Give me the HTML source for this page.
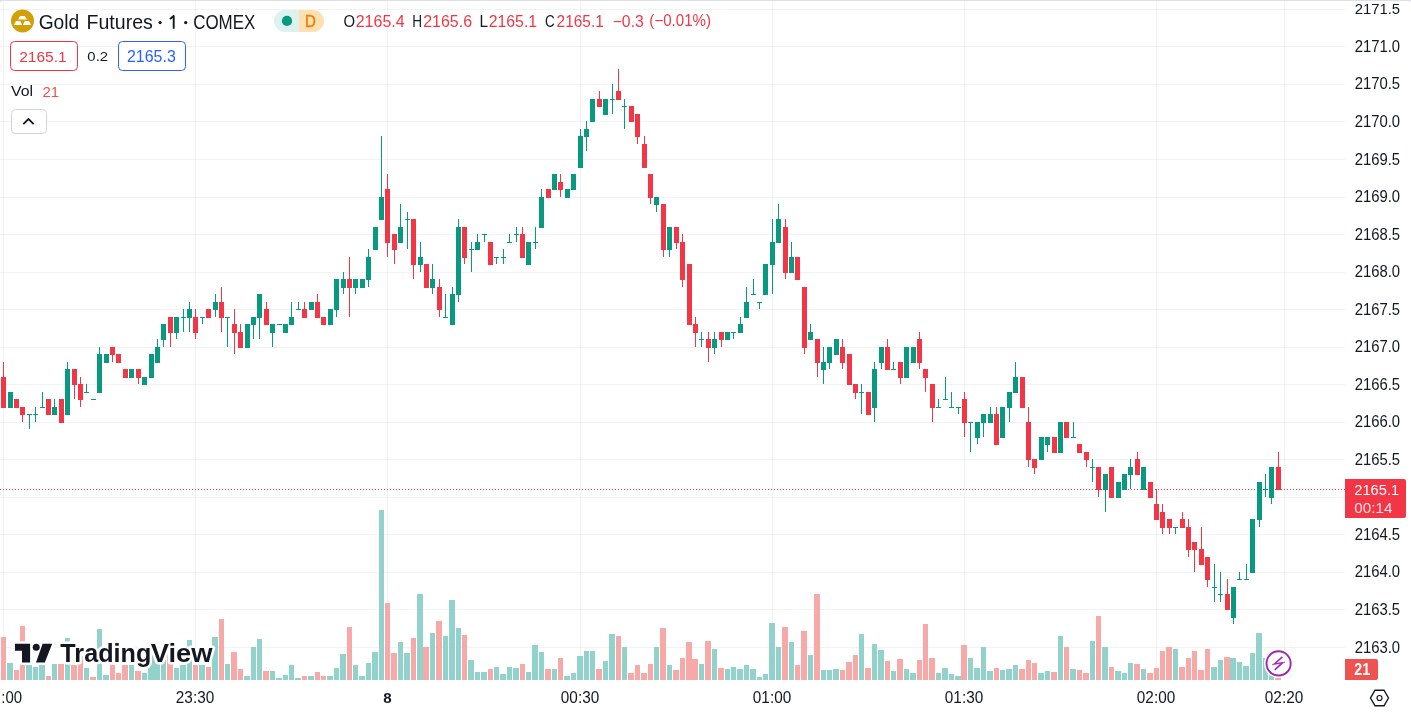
<!DOCTYPE html>
<html><head><meta charset="utf-8">
<style>
html,body{margin:0;padding:0;background:#fff;}
body{width:1411px;height:715px;overflow:hidden;position:relative;font-family:"Liberation Sans", sans-serif;}
svg{position:absolute;left:0;top:0;will-change:transform;}
</style></head>
<body>
<svg width="1411" height="715" viewBox="0 0 1411 715" shape-rendering="crispEdges">
<path fill="rgba(40,60,60,0.065)" d="M0 9h1345v1H0zM0 46h1345v1H0zM0 84h1345v1H0zM0 121h1345v1H0zM0 159h1345v1H0zM0 197h1345v1H0zM0 234h1345v1H0zM0 272h1345v1H0zM0 309h1345v1H0zM0 347h1345v1H0zM0 384h1345v1H0zM0 422h1345v1H0zM0 459h1345v1H0zM0 497h1345v1H0zM0 534h1345v1H0zM0 572h1345v1H0zM0 609h1345v1H0zM0 647h1345v1H0z"/>
<path fill="rgba(40,60,60,0.065)" d="M3 1h1V680h-1zM195 1h1V680h-1zM387 1h1V680h-1zM580 1h1V680h-1zM772 1h1V680h-1zM964 1h1V680h-1zM1156 1h1V680h-1zM1284 1h1V680h-1z"/>
<path fill="#92d2cc" d="M7 663h6v17h-6zM26 665h6v15h-6zM33 667h5v13h-5zM39 665h6v15h-6zM52 664h5v16h-5zM65 638h5v42h-5zM84 668h5v12h-5zM97 629h5v51h-5zM103 675h6v5h-6zM129 665h5v15h-5zM142 673h5v7h-5zM148 655h6v25h-6zM154 655h6v25h-6zM161 660h5v20h-5zM174 668h5v12h-5zM180 665h6v15h-6zM187 640h5v40h-5zM199 665h6v15h-6zM212 637h6v43h-6zM225 664h5v16h-5zM244 676h6v4h-6zM251 647h5v33h-5zM257 639h5v41h-5zM270 671h5v9h-5zM276 678h6v2h-6zM283 675h5v5h-5zM289 665h5v15h-5zM295 678h6v2h-6zM308 676h6v4h-6zM327 676h6v4h-6zM334 668h5v12h-5zM340 654h6v26h-6zM353 665h5v15h-5zM359 676h6v4h-6zM366 663h5v17h-5zM372 652h6v28h-6zM379 510h5v170h-5zM398 642h5v38h-5zM404 653h6v27h-6zM417 594h6v86h-6zM430 633h5v47h-5zM443 636h5v44h-5zM449 600h6v80h-6zM456 628h5v52h-5zM468 660h6v20h-6zM475 672h5v8h-5zM481 672h6v8h-6zM494 667h5v13h-5zM500 674h6v6h-6zM507 667h5v13h-5zM513 668h6v12h-6zM526 672h5v8h-5zM532 645h6v35h-6zM539 652h5v28h-5zM552 669h5v11h-5zM564 676h6v4h-6zM571 673h5v7h-5zM577 656h6v24h-6zM584 651h5v29h-5zM590 651h5v29h-5zM603 661h5v19h-5zM609 634h6v46h-6zM622 647h5v33h-5zM654 647h5v33h-5zM667 665h5v15h-5zM699 664h5v16h-5zM712 649h5v31h-5zM725 669h5v11h-5zM731 667h5v13h-5zM737 669h6v11h-6zM744 665h5v15h-5zM750 669h6v11h-6zM757 677h5v3h-5zM763 674h5v6h-5zM769 623h6v57h-6zM776 647h5v33h-5zM789 642h5v38h-5zM808 655h5v25h-5zM821 670h5v10h-5zM827 670h5v10h-5zM833 669h6v11h-6zM859 634h5v46h-5zM872 644h5v36h-5zM878 650h6v30h-6zM891 671h5v9h-5zM904 669h5v11h-5zM910 673h6v7h-6zM936 673h5v7h-5zM942 668h6v12h-6zM949 674h5v6h-5zM955 676h6v4h-6zM968 658h5v22h-5zM974 668h6v12h-6zM981 647h5v33h-5zM987 671h6v9h-6zM1000 670h5v10h-5zM1006 669h6v11h-6zM1013 665h5v15h-5zM1038 673h6v7h-6zM1045 671h5v9h-5zM1058 636h5v44h-5zM1070 669h6v11h-6zM1090 641h5v39h-5zM1102 647h6v33h-6zM1115 671h6v9h-6zM1122 673h5v7h-5zM1128 663h5v17h-5zM1141 669h5v11h-5zM1173 649h5v31h-5zM1211 667h6v13h-6zM1218 660h5v20h-5zM1230 658h6v22h-6zM1237 662h5v18h-5zM1243 666h6v14h-6zM1250 653h5v27h-5zM1256 633h6v47h-6zM1263 658h5v22h-5zM1269 665h5v15h-5z"/>
<path fill="#f7a9a7" d="M1 637h5v43h-5zM14 670h5v10h-5zM20 626h5v54h-5zM46 676h5v4h-5zM58 664h6v16h-6zM71 665h6v15h-6zM78 656h5v24h-5zM90 677h6v3h-6zM110 665h5v15h-5zM116 673h5v7h-5zM122 665h6v15h-6zM135 671h6v9h-6zM167 652h6v28h-6zM193 665h5v15h-5zM206 667h5v13h-5zM219 619h5v61h-5zM231 652h6v28h-6zM238 669h5v11h-5zM263 671h6v9h-6zM302 676h5v4h-5zM315 672h5v8h-5zM321 676h5v4h-5zM347 627h5v53h-5zM385 603h5v77h-5zM391 653h6v27h-6zM411 638h5v42h-5zM423 647h6v33h-6zM436 621h6v59h-6zM462 635h5v45h-5zM488 669h5v11h-5zM520 664h5v16h-5zM545 669h6v11h-6zM558 658h5v22h-5zM596 669h6v11h-6zM616 636h5v44h-5zM628 673h6v7h-6zM635 665h5v15h-5zM641 673h6v7h-6zM648 664h5v16h-5zM660 628h6v52h-6zM673 670h6v10h-6zM680 658h5v22h-5zM686 642h6v38h-6zM692 659h6v21h-6zM705 641h6v39h-6zM718 668h6v12h-6zM782 627h6v53h-6zM795 665h5v15h-5zM801 631h6v49h-6zM814 594h6v86h-6zM840 670h5v10h-5zM846 662h6v18h-6zM853 655h5v25h-5zM865 668h6v12h-6zM885 661h5v19h-5zM897 659h6v21h-6zM917 660h5v20h-5zM923 624h5v56h-5zM929 658h6v22h-6zM961 645h6v35h-6zM994 668h5v12h-5zM1019 669h6v11h-6zM1026 660h5v20h-5zM1032 663h5v17h-5zM1051 672h6v8h-6zM1064 647h5v33h-5zM1077 670h5v10h-5zM1083 673h6v7h-6zM1096 616h5v64h-5zM1109 667h5v13h-5zM1134 664h6v16h-6zM1147 673h6v7h-6zM1154 668h5v12h-5zM1160 651h5v29h-5zM1166 647h6v33h-6zM1179 667h6v13h-6zM1186 658h5v22h-5zM1192 651h5v29h-5zM1198 670h6v10h-6zM1205 649h5v31h-5zM1224 657h6v23h-6zM1275 678h6v2h-6z"/>
<path stroke="#F23645" stroke-width="1" stroke-dasharray="1 2" d="M0 489.5H1345"/>
<path fill="#089981" d="M10 392h1v15h-1zM8 392h5v16h-5zM29 414h1v15h-1zM27 414h5v1h-5zM35 407h1v15h-1zM33 414h5v1h-5zM42 392h1v15h-1zM40 407h5v1h-5zM54 399h1v15h-1zM52 407h5v8h-5zM67 362h1v52h-1zM65 369h5v46h-5zM86 384h1v8h-1zM84 392h5v1h-5zM91 399h5v1h-5zM99 347h1v45h-1zM97 354h5v39h-5zM106 354h1v8h-1zM104 354h5v9h-5zM131 369h1v8h-1zM129 369h5v9h-5zM144 377h1v7h-1zM142 377h5v8h-5zM151 354h1v23h-1zM149 354h5v24h-5zM157 339h1v23h-1zM155 347h5v16h-5zM163 324h1v23h-1zM161 324h5v16h-5zM176 317h1v22h-1zM174 317h5v16h-5zM183 309h1v23h-1zM181 317h5v1h-5zM189 302h1v30h-1zM187 309h5v9h-5zM202 317h1v7h-1zM200 317h5v1h-5zM215 294h1v23h-1zM213 302h5v8h-5zM227 317h1v30h-1zM225 317h5v1h-5zM247 324h1v23h-1zM245 324h5v24h-5zM253 317h1v22h-1zM251 317h5v8h-5zM259 294h1v45h-1zM257 294h5v24h-5zM272 324h1v23h-1zM270 324h5v9h-5zM277 324h5v1h-5zM285 324h1v8h-1zM283 324h5v9h-5zM291 302h1v22h-1zM289 317h5v8h-5zM298 302h1v7h-1zM296 309h5v1h-5zM311 302h1v7h-1zM309 302h5v8h-5zM330 309h1v15h-1zM328 309h5v16h-5zM336 279h1v38h-1zM334 279h5v31h-5zM343 272h1v22h-1zM341 279h5v9h-5zM355 279h1v15h-1zM353 279h5v9h-5zM362 279h1v8h-1zM360 279h5v9h-5zM368 249h1v38h-1zM366 257h5v23h-5zM375 227h1v22h-1zM373 227h5v23h-5zM381 136h1v83h-1zM379 197h5v23h-5zM400 204h1v38h-1zM398 227h5v16h-5zM407 212h1v37h-1zM405 219h5v1h-5zM420 242h1v30h-1zM418 257h5v8h-5zM432 264h1v30h-1zM430 279h5v9h-5zM445 294h1v23h-1zM443 317h5v1h-5zM452 287h1v37h-1zM450 294h5v31h-5zM458 219h1v83h-1zM456 227h5v68h-5zM471 242h1v30h-1zM469 249h5v1h-5zM477 234h1v15h-1zM475 242h5v8h-5zM484 234h1v8h-1zM482 234h5v1h-5zM496 257h1v7h-1zM494 257h5v1h-5zM503 249h1v15h-1zM501 257h5v1h-5zM509 234h1v8h-1zM507 242h5v1h-5zM516 227h1v15h-1zM514 234h5v1h-5zM528 242h1v22h-1zM526 242h5v23h-5zM535 227h1v22h-1zM533 242h5v1h-5zM541 189h1v38h-1zM539 197h5v31h-5zM554 174h1v15h-1zM552 174h5v16h-5zM567 189h1v8h-1zM565 189h5v9h-5zM573 174h1v15h-1zM571 174h5v16h-5zM580 129h1v38h-1zM578 136h5v32h-5zM586 121h1v30h-1zM584 129h5v8h-5zM592 99h1v22h-1zM590 99h5v23h-5zM605 99h1v15h-1zM603 99h5v16h-5zM612 84h1v30h-1zM610 99h5v1h-5zM624 99h1v30h-1zM622 106h5v1h-5zM656 197h1v15h-1zM654 197h5v8h-5zM669 227h1v30h-1zM667 227h5v23h-5zM701 332h1v15h-1zM699 339h5v1h-5zM714 332h1v22h-1zM712 339h5v9h-5zM727 332h1v7h-1zM725 332h5v8h-5zM733 332h1v7h-1zM731 332h5v1h-5zM740 317h1v15h-1zM738 324h5v9h-5zM746 287h1v30h-1zM744 302h5v16h-5zM753 279h1v15h-1zM751 294h5v1h-5zM759 302h1v7h-1zM757 302h5v1h-5zM765 264h1v30h-1zM763 264h5v31h-5zM772 219h1v75h-1zM770 242h5v23h-5zM778 204h1v38h-1zM776 219h5v24h-5zM791 242h1v30h-1zM789 257h5v16h-5zM810 324h1v15h-1zM808 332h5v8h-5zM823 347h1v37h-1zM821 362h5v8h-5zM829 347h1v22h-1zM827 347h5v16h-5zM836 339h1v15h-1zM834 339h5v16h-5zM861 384h1v30h-1zM859 392h5v1h-5zM874 362h1v60h-1zM872 369h5v39h-5zM881 347h1v22h-1zM879 347h5v16h-5zM893 362h1v7h-1zM891 369h5v1h-5zM906 347h1v30h-1zM904 347h5v31h-5zM913 347h1v15h-1zM911 347h5v16h-5zM938 399h1v8h-1zM936 407h5v1h-5zM945 377h1v22h-1zM943 399h5v1h-5zM951 392h1v15h-1zM949 407h5v1h-5zM958 407h1v7h-1zM956 407h5v1h-5zM970 422h1v30h-1zM968 422h5v1h-5zM977 422h1v22h-1zM975 422h5v16h-5zM983 414h1v23h-1zM981 414h5v9h-5zM990 407h1v15h-1zM988 414h5v9h-5zM1002 407h1v30h-1zM1000 407h5v31h-5zM1009 392h1v30h-1zM1007 392h5v16h-5zM1015 362h1v30h-1zM1013 377h5v16h-5zM1041 437h1v22h-1zM1039 437h5v23h-5zM1047 437h1v15h-1zM1045 437h5v8h-5zM1060 422h1v30h-1zM1058 422h5v31h-5zM1073 422h1v15h-1zM1071 437h5v1h-5zM1092 459h1v23h-1zM1090 467h5v1h-5zM1105 474h1v38h-1zM1103 474h5v16h-5zM1118 482h1v15h-1zM1116 482h5v16h-5zM1124 474h1v15h-1zM1122 474h5v16h-5zM1130 459h1v30h-1zM1128 467h5v8h-5zM1143 467h1v22h-1zM1141 467h5v23h-5zM1175 527h1v7h-1zM1173 527h5v1h-5zM1214 564h1v38h-1zM1212 587h5v1h-5zM1220 572h1v30h-1zM1218 594h5v1h-5zM1233 587h1v37h-1zM1231 587h5v31h-5zM1239 572h1v7h-1zM1237 579h5v1h-5zM1246 564h1v15h-1zM1244 579h5v1h-5zM1252 519h1v53h-1zM1250 519h5v54h-5zM1259 482h1v45h-1zM1257 482h5v38h-5zM1265 474h1v23h-1zM1263 489h5v1h-5zM1271 467h1v37h-1zM1269 467h5v31h-5z"/>
<path fill="#F23645" d="M3 362h1v45h-1zM1 377h5v31h-5zM16 399h1v8h-1zM14 399h5v9h-5zM22 407h1v15h-1zM20 407h5v8h-5zM48 399h1v15h-1zM46 399h5v16h-5zM61 399h1v23h-1zM59 399h5v24h-5zM74 369h1v30h-1zM72 369h5v16h-5zM80 377h1v30h-1zM78 384h5v16h-5zM112 347h1v15h-1zM110 347h5v8h-5zM118 354h1v8h-1zM116 354h5v9h-5zM125 369h1v8h-1zM123 369h5v9h-5zM138 369h1v15h-1zM136 369h5v9h-5zM170 317h1v30h-1zM168 317h5v16h-5zM195 309h1v30h-1zM193 317h5v16h-5zM208 309h1v8h-1zM206 309h5v9h-5zM221 287h1v45h-1zM219 302h5v16h-5zM234 309h1v45h-1zM232 324h5v9h-5zM240 324h1v23h-1zM238 332h5v16h-5zM266 302h1v22h-1zM264 309h5v16h-5zM304 302h1v15h-1zM302 309h5v9h-5zM317 294h1v23h-1zM315 302h5v16h-5zM323 317h1v7h-1zM321 317h5v8h-5zM349 257h1v60h-1zM347 279h5v9h-5zM387 174h1v83h-1zM385 189h5v54h-5zM394 234h1v30h-1zM392 234h5v16h-5zM413 219h1v60h-1zM411 219h5v46h-5zM426 264h1v23h-1zM424 264h5v24h-5zM439 279h1v38h-1zM437 287h5v23h-5zM464 227h1v37h-1zM462 227h5v31h-5zM490 242h1v22h-1zM488 242h5v23h-5zM522 227h1v30h-1zM520 234h5v24h-5zM548 189h1v8h-1zM546 189h5v9h-5zM560 174h1v23h-1zM558 182h5v8h-5zM599 91h1v15h-1zM597 99h5v8h-5zM618 69h1v30h-1zM616 91h5v9h-5zM631 106h1v15h-1zM629 106h5v16h-5zM637 114h1v30h-1zM635 114h5v23h-5zM644 136h1v31h-1zM642 144h5v24h-5zM650 174h1v30h-1zM648 174h5v24h-5zM663 204h1v53h-1zM661 204h5v46h-5zM676 227h1v22h-1zM674 227h5v16h-5zM682 234h1v53h-1zM680 242h5v38h-5zM689 264h1v60h-1zM687 264h5v61h-5zM695 317h1v30h-1zM693 324h5v9h-5zM708 332h1v30h-1zM706 339h5v9h-5zM721 332h1v15h-1zM719 332h5v8h-5zM785 219h1v60h-1zM783 227h5v46h-5zM797 257h1v22h-1zM795 257h5v23h-5zM804 287h1v67h-1zM802 287h5v61h-5zM817 339h1v38h-1zM815 339h5v24h-5zM842 339h1v30h-1zM840 347h5v16h-5zM849 354h1v30h-1zM847 354h5v31h-5zM855 384h1v15h-1zM853 384h5v9h-5zM868 392h1v22h-1zM866 392h5v23h-5zM887 339h1v30h-1zM885 347h5v23h-5zM900 362h1v22h-1zM898 362h5v16h-5zM919 332h1v37h-1zM917 339h5v24h-5zM925 369h1v23h-1zM923 369h5v9h-5zM932 384h1v38h-1zM930 384h5v24h-5zM964 392h1v45h-1zM962 399h5v24h-5zM996 407h1v37h-1zM994 414h5v31h-5zM1022 377h1v30h-1zM1020 377h5v31h-5zM1028 407h1v60h-1zM1026 422h5v38h-5zM1034 459h1v15h-1zM1032 459h5v9h-5zM1054 437h1v15h-1zM1052 437h5v16h-5zM1066 422h1v15h-1zM1064 422h5v16h-5zM1079 444h1v8h-1zM1077 444h5v9h-5zM1086 452h1v15h-1zM1084 452h5v8h-5zM1098 467h1v30h-1zM1096 467h5v23h-5zM1111 467h1v30h-1zM1109 467h5v31h-5zM1137 452h1v22h-1zM1135 459h5v16h-5zM1150 482h1v15h-1zM1148 482h5v16h-5zM1156 489h1v30h-1zM1154 504h5v16h-5zM1162 504h1v30h-1zM1160 512h5v16h-5zM1169 519h1v15h-1zM1167 519h5v9h-5zM1182 512h1v15h-1zM1180 519h5v9h-5zM1188 519h1v38h-1zM1186 527h5v23h-5zM1194 542h1v30h-1zM1192 542h5v8h-5zM1201 527h1v37h-1zM1199 549h5v16h-5zM1207 557h1v30h-1zM1205 557h5v23h-5zM1227 579h1v30h-1zM1225 594h5v16h-5zM1278 452h1v37h-1zM1276 467h5v23h-5z"/>
<g shape-rendering="geometricPrecision">
<circle cx="22.5" cy="20.9" r="11.5" fill="#d39f06"/>
<path fill="#fff" d="M20 15.9H24.8L26.9 19.6H18.1Z M16 20.9H20.2L22.1 24.9H13.9Z M24.8 20.9H29L31.1 24.9H22.9Z"/>
<text transform="translate(38.65 28.69) scale(0.9335 1)" font-size="20.61" font-weight="normal" fill="#131722" >Gold</text>
<text transform="translate(86.45 28.70) scale(0.9987 1)" font-size="19.64" font-weight="normal" fill="#131722" >Futures</text>
<circle cx="160.1" cy="22.6" r="1.65" fill="#131722"/>
<path d="M173.7 15.4V28.8M174.2 15.6L170 19" fill="none" stroke="#131722" stroke-width="1.9"/>
<circle cx="185.7" cy="22.6" r="1.65" fill="#131722"/>
<text transform="translate(193.15 28.70) scale(0.8576 1)" font-size="19.79" font-weight="normal" fill="#131722" >COMEX</text>
<path fill="#dcf2ee" d="M285 10H299V32H285A11 11 0 0 1 285 10Z"/>
<path fill="#ffe0b2" d="M299 10H313A11 11 0 0 1 313 32H299Z"/>
<circle cx="287" cy="20.9" r="5.1" fill="#089981"/>
<text transform="translate(304.95 26.80) scale(0.8809 1)" font-size="17.03" font-weight="normal" fill="#f57c00" stroke="#f57c00" stroke-width="0.5">D</text>
<text transform="translate(343.45 26.84) scale(0.9222 1)" font-size="16.13" font-weight="normal" fill="#131722" >O</text>
<text transform="translate(355.65 26.74) scale(1.0217 1)" font-size="15.70" font-weight="normal" fill="#F23645" >2165.4</text>
<text transform="translate(412.25 26.90) scale(0.8423 1)" font-size="16.16" font-weight="normal" fill="#131722" >H</text>
<text transform="translate(423.15 26.74) scale(1.0197 1)" font-size="15.70" font-weight="normal" fill="#F23645" >2165.6</text>
<text transform="translate(479.55 26.90) scale(0.9478 1)" font-size="16.16" font-weight="normal" fill="#131722" >L</text>
<text transform="translate(488.65 26.74) scale(1.0093 1)" font-size="15.70" font-weight="normal" fill="#F23645" >2165.1</text>
<text transform="translate(545.05 26.84) scale(0.8354 1)" font-size="16.13" font-weight="normal" fill="#131722" >C</text>
<text transform="translate(556.55 26.74) scale(0.9843 1)" font-size="15.70" font-weight="normal" fill="#F23645" >2165.1</text>
<text transform="translate(612.65 26.74) scale(1.0059 1)" font-size="15.70" font-weight="normal" fill="#F23645" >−0.3</text>
<text transform="translate(649.35 26.36) scale(0.9510 1)" font-size="15.88" font-weight="normal" fill="#F23645" >(−0.01%)</text>
<rect x="10.5" y="41.5" width="67" height="29" rx="4" fill="#fff" stroke="#F23645" stroke-width="1"/>
<text transform="translate(19.15 61.84) scale(0.9995 1)" font-size="15.56" font-weight="normal" fill="#F23645" >2165.1</text>
<text transform="translate(87.35 60.76) scale(1.0957 1)" font-size="13.59" font-weight="normal" fill="#131722" >0.2</text>
<rect x="118.5" y="41.5" width="67" height="29" rx="4" fill="#fff" stroke="#2962FF" stroke-width="1"/>
<text transform="translate(126.95 61.94) scale(0.9997 1)" font-size="15.99" font-weight="normal" fill="#2962FF" >2165.3</text>
<text transform="translate(10.95 96.45) scale(1.0576 1)" font-size="15.03" font-weight="normal" fill="#131722" >Vol</text>
<text transform="translate(42.45 96.60) scale(0.9923 1)" font-size="15.07" font-weight="normal" fill="#ef5350" >21</text>
<rect x="11.5" y="109.5" width="35" height="24" rx="4" fill="#fff" stroke="#d1d4dc" stroke-width="1"/>
<path d="M23.3 124.2L28.5 119L33.7 124.2" fill="none" stroke="#131722" stroke-width="1.8"/>
</g>
<text transform="translate(1354.65 13.74) scale(0.9554 1)" font-size="15.56" font-weight="normal" fill="#131722" >2171.5</text>
<text transform="translate(1354.65 51.94) scale(0.9468 1)" font-size="15.70" font-weight="normal" fill="#131722" >2171.0</text>
<text transform="translate(1354.65 89.47) scale(0.9468 1)" font-size="15.70" font-weight="normal" fill="#131722" >2170.5</text>
<text transform="translate(1354.65 127.01) scale(0.9468 1)" font-size="15.70" font-weight="normal" fill="#131722" >2170.0</text>
<text transform="translate(1354.65 164.54) scale(0.9468 1)" font-size="15.70" font-weight="normal" fill="#131722" >2169.5</text>
<text transform="translate(1354.65 202.08) scale(0.9468 1)" font-size="15.70" font-weight="normal" fill="#131722" >2169.0</text>
<text transform="translate(1354.65 239.61) scale(0.9468 1)" font-size="15.70" font-weight="normal" fill="#131722" >2168.5</text>
<text transform="translate(1354.65 277.15) scale(0.9468 1)" font-size="15.70" font-weight="normal" fill="#131722" >2168.0</text>
<text transform="translate(1354.65 314.68) scale(0.9468 1)" font-size="15.70" font-weight="normal" fill="#131722" >2167.5</text>
<text transform="translate(1354.65 352.22) scale(0.9468 1)" font-size="15.70" font-weight="normal" fill="#131722" >2167.0</text>
<text transform="translate(1354.65 389.75) scale(0.9468 1)" font-size="15.70" font-weight="normal" fill="#131722" >2166.5</text>
<text transform="translate(1354.65 427.29) scale(0.9468 1)" font-size="15.70" font-weight="normal" fill="#131722" >2166.0</text>
<text transform="translate(1354.65 464.82) scale(0.9468 1)" font-size="15.70" font-weight="normal" fill="#131722" >2165.5</text>
<text transform="translate(1354.65 502.36) scale(0.9468 1)" font-size="15.70" font-weight="normal" fill="#131722" >2165.0</text>
<text transform="translate(1354.65 539.89) scale(0.9468 1)" font-size="15.70" font-weight="normal" fill="#131722" >2164.5</text>
<text transform="translate(1354.65 577.43) scale(0.9468 1)" font-size="15.70" font-weight="normal" fill="#131722" >2164.0</text>
<text transform="translate(1354.65 614.96) scale(0.9468 1)" font-size="15.70" font-weight="normal" fill="#131722" >2163.5</text>
<text transform="translate(1354.65 652.50) scale(0.9468 1)" font-size="15.70" font-weight="normal" fill="#131722" >2163.0</text>
<path fill="#F23645" d="M1345 479H1404A2 2 0 0 1 1406 481V516A2 2 0 0 1 1404 518H1345Z" shape-rendering="geometricPrecision"/>
<text transform="translate(1354.35 494.85) scale(0.9580 1)" font-size="15.28" font-weight="normal" fill="#fff" >2165.1</text>
<text transform="translate(1354.35 512.65) scale(1.0140 1)" font-size="15.00" font-weight="normal" fill="rgba(255,255,255,0.85)" >00:14</text>
<path fill="#ef5350" d="M1345 659H1376A2 2 0 0 1 1378 661V678A2 2 0 0 1 1376 680H1345Z" shape-rendering="geometricPrecision"/>
<text transform="translate(1354.35 675.10) scale(0.8702 1)" font-size="16.36" font-weight="bold" fill="#fff" >21</text>
<text transform="translate(1.35 702.74) scale(0.9444 1)" font-size="15.85" font-weight="normal" fill="#131722" >:00</text>
<text transform="translate(175.85 702.84) scale(0.9761 1)" font-size="15.70" font-weight="normal" fill="#131722" >23:30</text>
<text transform="translate(560.85 702.84) scale(0.9761 1)" font-size="15.70" font-weight="normal" fill="#131722" >00:30</text>
<text transform="translate(752.85 702.84) scale(0.9761 1)" font-size="15.70" font-weight="normal" fill="#131722" >01:00</text>
<text transform="translate(944.85 702.84) scale(0.9761 1)" font-size="15.70" font-weight="normal" fill="#131722" >01:30</text>
<text transform="translate(1136.85 702.84) scale(0.9761 1)" font-size="15.70" font-weight="normal" fill="#131722" >02:00</text>
<text transform="translate(1264.85 702.84) scale(0.9761 1)" font-size="15.70" font-weight="normal" fill="#131722" >02:20</text>
<text transform="translate(383.25 702.94) scale(0.9725 1)" font-size="15.56" font-weight="bold" fill="#131722" >8</text>
<g shape-rendering="geometricPrecision" fill="none" stroke="#131722" stroke-width="1.4">
<polygon points="1388.50,698.00 1384.00,705.79 1375.00,705.79 1370.50,698.00 1375.00,690.21 1384.00,690.21"/>
<circle cx="1379.5" cy="698.0" r="2.5" stroke-width="1.2"/>
</g>
<g shape-rendering="geometricPrecision">
<path d="M15 643.8H30.1V662.6H22V650.8H15Z M42.6 643.8H52.2L44.8 662.6H36Z" fill="#fff" stroke="#fff" stroke-width="5" stroke-linejoin="round"/>
<circle cx="36.2" cy="647.3" r="3.5" fill="#fff" stroke="#fff" stroke-width="5"/>
<text transform="translate(60.35 662.23) scale(0.9669 1)" font-size="26.04" font-weight="bold" fill="#fff" stroke="#fff" stroke-width="5" stroke-linejoin="round">Trading</text>
<text transform="translate(150.65 662.14) scale(1.0544 1)" font-size="25.92" font-weight="bold" fill="#fff" stroke="#fff" stroke-width="5" stroke-linejoin="round">View</text>
<path d="M15 643.8H30.1V662.6H22V650.8H15Z M42.6 643.8H52.2L44.8 662.6H36Z" fill="#131722"/>
<circle cx="36.2" cy="647.3" r="3.5" fill="#131722"/>
<text transform="translate(60.35 662.23) scale(0.9669 1)" font-size="26.04" font-weight="bold" fill="#131722" >Trading</text>
<text transform="translate(150.65 662.14) scale(1.0544 1)" font-size="25.92" font-weight="bold" fill="#131722" >View</text>
</g>
<g shape-rendering="geometricPrecision">
<circle cx="1278.6" cy="663.4" r="14.5" fill="#fff"/>
<circle cx="1278.6" cy="663.4" r="12.1" fill="#fff" stroke="#9c27b0" stroke-width="1.9"/>
<path d="M1282.4 656.9L1274.7 663.7M1282.4 662.9L1274.7 669.9" fill="none" stroke="#9c27b0" stroke-width="1.5"/>
<path d="M1272.2 664.5L1276 663.2L1285 662.2L1281.5 663.6Z" fill="#9c27b0" stroke="#9c27b0" stroke-width="0.6" stroke-linejoin="round"/>
</g>
<path fill="#dde0e9" shape-rendering="geometricPrecision" d="M0 0H1411V1H0Z M0 1H3A3 3 0 0 0 0 4Z M1411 1H1409A2 2 0 0 1 1411 3Z"/>
</svg>
</body></html>
